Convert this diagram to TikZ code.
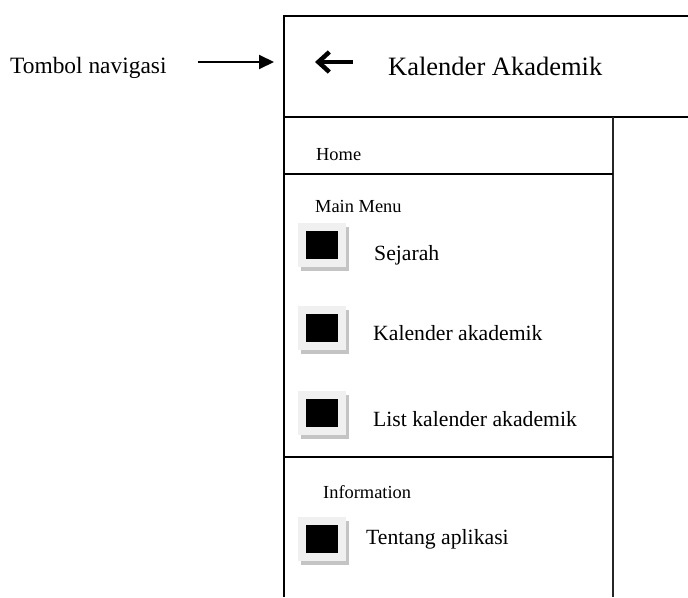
\documentclass[tikz,border=0pt]{standalone}
\usepackage{fontspec}
\setmainfont{Liberation Serif}
\usetikzlibrary{arrows.meta,shadows}
\definecolor{btnface}{HTML}{F0F0F0}
\definecolor{btnshade}{HTML}{C4C4C4}
\begin{document}
\begin{tikzpicture}[x=1pt,y=-1pt,
  frame/.style={line width=2pt,black},
  inner/.style={line width=1.6pt,black!85},
  small/.style={anchor=base west,inner sep=0,font=\fontsize{18.4}{20}\selectfont},
  item/.style={anchor=base west,inner sep=0,font=\fontsize{21.7}{24}\selectfont},
  iconbtn/.style={fill=btnface,minimum width=48pt,minimum height=44pt,inner sep=0,outer sep=0,
    drop shadow={shadow xshift=3pt,shadow yshift=-4pt,fill=btnshade,opacity=1},
    path picture={\fill[black] ([xshift=-16pt,yshift=-14pt]path picture bounding box.center)
      rectangle ++(32pt,28pt);}},
]
\useasboundingbox (0,0) rectangle (688,597);

% outline of the screen
\coordinate (tl) at (284,16);
\coordinate (tr) at (688,16);
\coordinate (bl) at (284,597);
\coordinate (hl) at (284,117);
\coordinate (hr) at (688,117);
\coordinate (dtop) at (613,117);
\coordinate (dbot) at (613,597);
\coordinate (homel) at (284,174);
\coordinate (homer) at (613,174);
\coordinate (infol) at (284,457);
\coordinate (infor) at (613,457);

\draw[frame] (tr) -- (tl) -- (bl);
\draw[frame] (hl) -- (hr);
\draw[inner] (dtop) -- (dbot);
\draw[frame] (homel) -- (homer);
\draw[frame] (infol) -- (infor);

% header
\node[anchor=base west,inner sep=0,font=\fontsize{26.5}{28}\selectfont] (title) at (388,75) {Kalender Akademik};
\coordinate (backtail) at (353,62);
\coordinate (backtip) at (315,62);
\draw[line width=4.5pt,-{Straight Barb[length=11pt,width=20pt]}] (backtail) -- (backtip);

% callout
\node[anchor=base west,inner sep=0,font=\fontsize{23.4}{25}\selectfont] (tombol) at (10,73) {Tombol navigasi};
\coordinate (navtip) at (274,62);
\draw[line width=2pt,-{Triangle[length=15pt,width=14pt]}] ([xshift=31pt]tombol.east |- navtip) -- (navtip);

% drawer sections
\node[small] (home) at (316,160) {Home};
\node[small] (mainmenu) at (315,212) {Main Menu};
\node[small] (information) at (323,498) {Information};

% menu entries
\node[iconbtn] (b1) at (322,245) {};
\node[item] (sejarah) at (374,260) {Sejarah};
\node[iconbtn] (b2) at (322,328) {};
\node[item] (kalender) at (373,340) {Kalender akademik};
\node[iconbtn] (b3) at (322,413) {};
\node[item] (list) at (373,426) {List kalender akademik};
\node[iconbtn] (b4) at (322,538.5) {};
\node[item] (tentang) at (366,544) {Tentang aplikasi};
\end{tikzpicture}
\end{document}
